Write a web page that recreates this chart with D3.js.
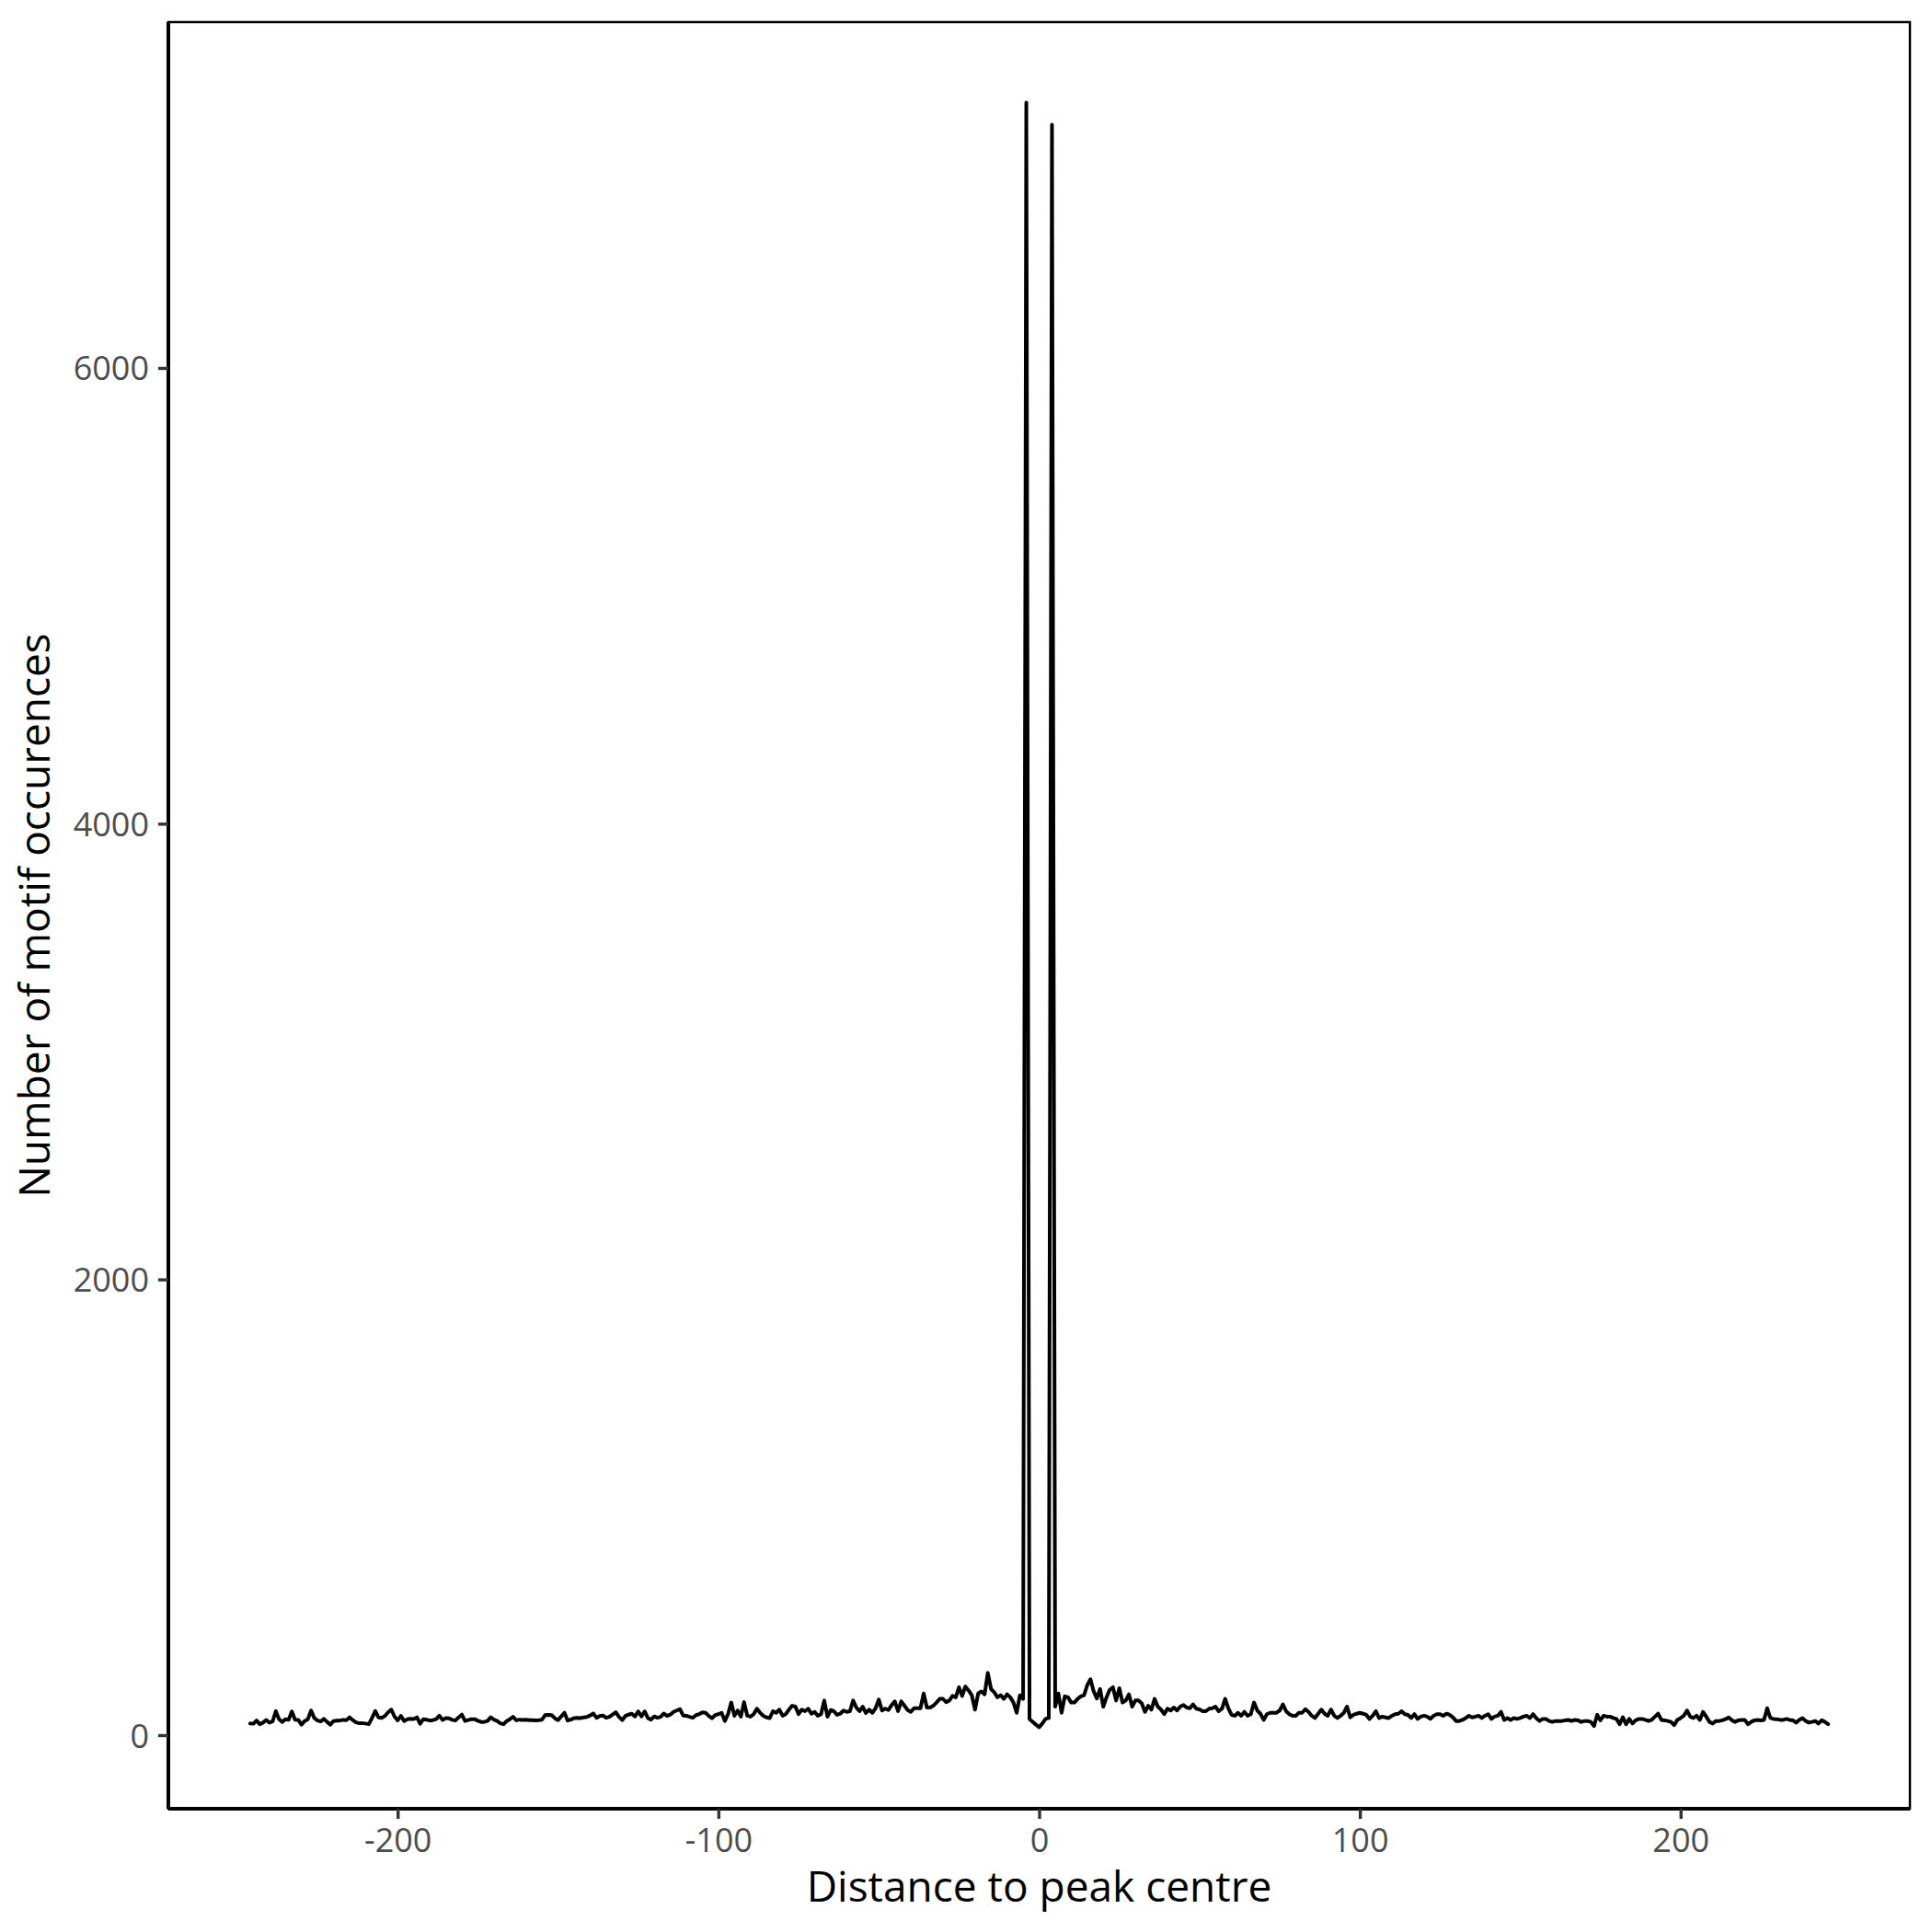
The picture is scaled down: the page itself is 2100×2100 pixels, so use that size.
<!DOCTYPE html>
<html>
<head>
<meta charset="utf-8">
<script src="https://cdn.jsdelivr.net/npm/d3@7"></script>
<style>
  html, body { margin: 0; padding: 0; background: #ffffff; }
  svg { display: block; }
  text { font-family: "Open Sans", "Noto Sans", sans-serif; }
</style>
</head>
<body>
<div id="chart"></div>
<script>
// ---- data ----
// distance to peak centre runs from -246 to 246 in steps of 1
const distanceStart = -246;
const distanceEnd = 246;

// counts for distance -246 .. -101
const countsLeft = [
  51,50,64,48,55,66,55,60,105,70,
  58,70,68,104,68,67,46,62,70,108,
  75,64,60,71,58,46,62,64,64,67,
  66,78,66,56,52,52,51,48,75,106,
  78,76,84,100,112,82,65,84,62,70,
  72,71,78,50,70,68,64,66,70,85,
  67,75,74,67,64,78,90,62,66,70,
  70,63,58,58,62,78,68,62,52,48,
  62,70,80,65,68,67,68,66,66,65,
  66,68,88,89,88,74,66,82,98,64,
  68,75,76,75,78,80,86,95,76,84,
  86,76,80,90,100,80,66,84,90,94,
  82,104,82,104,75,68,82,76,80,95,
  84,90,102,108,114,86,85,80,76,88,
  92,100,98,84,74,88
];

// counts for distance -100 .. 48 (includes the two central spikes at -4 and 4)
const countsCentre = [
  92,98,62,92,143,85,108,81,145,85,
  81,92,116,98,85,78,75,105,98,112,
  85,92,112,129,125,92,112,105,116,94,
  102,85,92,152,81,110,105,89,94,108,
  102,105,152,121,105,125,97,112,98,118,
  156,108,116,110,132,148,105,148,129,110,
  102,118,118,118,183,121,121,129,143,159,
  159,145,152,172,166,210,172,213,196,175,
  112,183,192,179,273,202,188,166,175,159,
  179,166,143,98,175,159,7165,71,58,46,
  35,51,71,75,7068,125,183,98,170,166,
  143,143,159,170,175,219,245,192,161,202,
  125,166,199,210,152,206,143,152,179,125,
  152,152,139,102,129,112,159,125,112,92,
  116,108,121,108,125,132,121,118,135
];

// counts for distance 49 .. 197
const countsRight = [
  116,113,105,105,116,118,125,105,116,159,
  118,89,85,98,85,102,85,92,143,108,
  94,67,92,98,98,98,108,135,105,92,
  85,85,98,98,114,102,85,75,94,112,
  94,85,112,85,75,85,98,125,78,89,
  94,98,94,89,71,85,105,75,81,78,
  75,85,92,94,105,92,89,75,92,71,
  81,85,81,71,85,92,92,85,94,89,
  78,62,62,67,75,85,78,81,85,75,
  85,92,71,81,85,102,67,75,67,75,
  71,75,81,85,75,92,75,62,71,71,
  62,58,62,62,62,65,67,62,67,65,
  58,62,62,58,40,89,65,85,81,81,
  75,71,48,78,48,71,51,65,71,71,
  67,62,67,81,94,67,65,62,58
];

// counts for distance 198 .. 246
const countsFar = [
  44,67,75,85,108,81,75,85,67,102,
  81,58,51,62,62,65,70,78,65,58,
  65,67,67,48,58,65,67,65,67,118,
  75,71,70,67,67,71,67,65,55,67,
  75,62,55,58,62,51,65,58,48
];

const xTickValues = [-200, -100, 0, 100, 200];
const xTickLabels = ["-200", "-100", "0", "100", "200"];
const yTickValues = [0, 2000, 4000, 6000];
const yTickLabels = ["0", "2000", "4000", "6000"];
const xTitle = "Distance to peak centre";
const yTitle = "Number of motif occurences";

// ---- build table ----
const counts = countsLeft.concat(countsCentre, countsRight, countsFar);
const distances = d3.range(distanceStart, distanceEnd + 1);
const data = distances.map((d, i) => ({ x: d, y: counts[i] }));

// ---- layout ----
const W = 2100, H = 2100;
const panel = { left: 183, right: 2076, top: 24, bottom: 1966 };

const svg = d3.select("#chart").append("svg")
  .attr("width", W).attr("height", H)
  .attr("viewBox", `0 0 ${W} ${H}`);

svg.append("rect").attr("width", W).attr("height", H).attr("fill", "#ffffff");

const x = d3.scaleLinear().domain([-271.5, 271.5]).range([panel.left, panel.right]);
const y = d3.scaleLinear().domain([-323, 7518]).range([panel.bottom, panel.top]);

// panel border
svg.append("rect")
  .attr("x", panel.left).attr("y", panel.top)
  .attr("width", panel.right - panel.left)
  .attr("height", panel.bottom - panel.top)
  .attr("fill", "none").attr("stroke", "#000000").attr("stroke-width", 2.5);

// data line
const line = d3.line().x(d => x(d.x)).y(d => y(d.y));
svg.append("path")
  .datum(data)
  .attr("d", line)
  .attr("fill", "none")
  .attr("stroke", "#000000")
  .attr("stroke-width", 4)
  .attr("stroke-linejoin", "round")
  .attr("stroke-linecap", "round");

// axes
const xAxis = d3.axisBottom(x).tickValues(xTickValues).tickSize(11).tickPadding(9)
  .tickFormat((d, i) => xTickLabels[i]);
const yAxis = d3.axisLeft(y).tickValues(yTickValues).tickSize(11).tickPadding(10)
  .tickFormat((d, i) => yTickLabels[i]);

const gx = svg.append("g").attr("transform", `translate(0,${panel.bottom})`).call(xAxis);
const gy = svg.append("g").attr("transform", `translate(${panel.left},0)`).call(yAxis);

[gx, gy].forEach(g => {
  g.select(".domain").attr("stroke", "#000000").attr("stroke-width", 4);
  g.selectAll(".tick line").attr("stroke", "#333333").attr("stroke-width", 3.4);
  g.selectAll(".tick text")
    .attr("fill", "#4d4d4d")
    .style("font-family", '"Open Sans", "Noto Sans", sans-serif')
    .style("font-size", "36px");
});
// axis lines spanning exactly the panel edges
gx.select(".domain").attr("d", `M${panel.left},0H${panel.right}`);
gy.select(".domain").attr("d", `M0,${panel.bottom}V${panel.top}`);

gx.selectAll(".tick text").attr("dy", null).attr("y", 47);
gy.selectAll(".tick text").attr("dy", null).attr("y", 13);

// titles
svg.append("text")
  .attr("x", (panel.left + panel.right) / 2)
  .attr("y", 2067)
  .attr("text-anchor", "middle")
  .attr("fill", "#000000")
  .style("font-size", "46px")
  .text(xTitle);

svg.append("text")
  .attr("transform", `translate(54,${(panel.top + panel.bottom) / 2}) rotate(-90)`)
  .attr("text-anchor", "middle")
  .attr("fill", "#000000")
  .style("font-size", "46px")
  .text(yTitle);
</script>
</body>
</html>
